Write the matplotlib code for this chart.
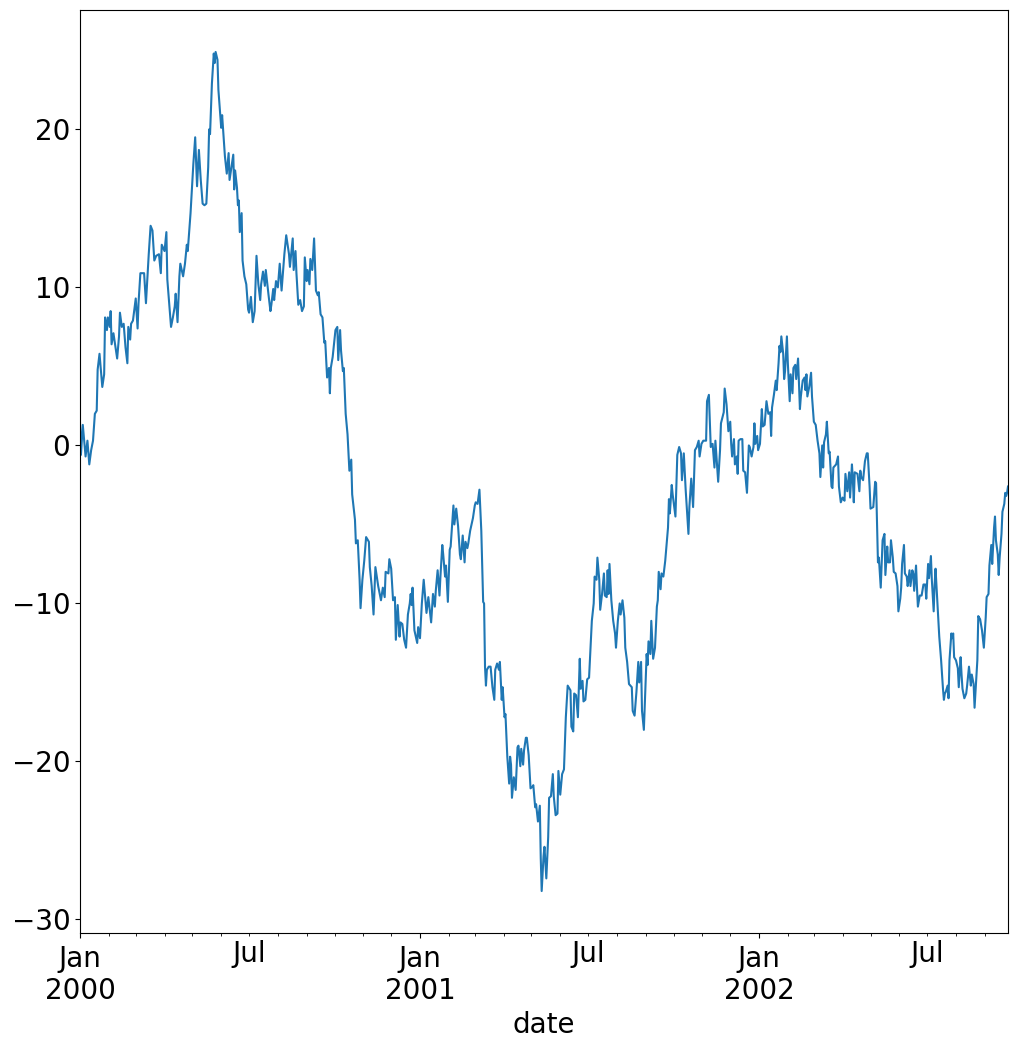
import matplotlib
matplotlib.use("Agg")
import matplotlib.pyplot as plt
import matplotlib.dates as mdates
from matplotlib.ticker import FuncFormatter
import pandas as pd

start_date = "2000-01-01"

days = [
    0, 1, 3, 6, 8, 10, 12, 14, 16, 18, 19, 21, 24, 26, 27, 29, 30, 32, 33, 34,
    36, 37, 40, 42, 43, 45, 47, 49, 51, 52, 54, 55, 57, 60, 62, 63, 65, 69, 71, 74,
    76, 78, 80, 82, 85, 87, 88, 91, 93, 94, 98, 100, 102, 103, 105, 107, 108, 111, 113, 115,
    116, 119, 122, 124, 126, 128, 130, 132, 134, 136, 138, 139, 140, 142, 144, 145, 146, 148, 149, 152,
    153, 156, 158, 160, 161, 163, 165, 166,
    167, 169, 170, 171, 172, 174, 175, 177, 179, 181, 182, 184, 186, 188, 190, 192, 194, 195, 197, 199,
    200, 202, 203, 205, 206, 208, 209, 211, 213, 215, 217, 220, 222, 225, 226, 229, 230, 232, 233, 235,
    237, 239, 241, 242, 244, 245, 247, 248, 250, 252, 254, 256, 257, 259, 261, 263, 264, 266, 268, 269,
    270, 272, 275, 277, 278, 280, 281, 283, 284, 286, 288, 290, 292, 293, 296, 297, 299, 301, 302, 304,
    306, 308, 311, 312, 314, 316, 318, 320, 321, 324, 326, 328, 329, 332, 333, 335, 337, 339,
    340, 342, 344, 345, 347, 349, 351, 353, 355, 356, 357, 358, 360, 363, 364, 366, 368, 370, 372, 373,
    375, 378, 380, 382, 383, 385, 387, 388, 390, 391, 393, 394, 396, 398, 399, 402, 403, 405, 407, 409,
    410, 412, 414, 415, 417, 418, 420, 423, 425, 426, 428, 430, 432, 434, 435, 436, 437, 438, 440, 442,
    444, 446, 447, 449, 451, 452, 454, 455, 457, 458, 460, 462, 463, 464, 465, 467, 469, 471, 472, 474,
    475, 477, 478, 480, 481, 483, 485, 487, 488, 490, 491, 493, 495, 496, 497, 499, 500, 502, 504, 505,
    507, 509, 510, 512, 514, 515, 517, 519, 521, 523,
    525, 528, 529, 531, 532, 534, 536, 538, 539, 541, 542, 544, 546, 548, 550, 551, 553, 554, 556, 557,
    559, 560, 562, 564, 565, 567, 568, 569, 570, 572, 574, 576, 577, 579, 581, 582, 584, 586, 587, 589,
    591, 594, 595, 597, 599, 601, 602, 604, 605, 607, 610, 611, 612, 614, 615, 617, 619, 621, 622, 623,
    625, 626, 628, 630, 633, 634, 635, 637, 638, 641, 643, 645, 647, 648, 650, 652, 655, 656, 658, 660,
    662, 664, 666, 667, 669, 671, 674, 675, 677, 679, 681, 683, 684, 687, 689, 690, 693, 694,
    696, 698, 700, 701, 702, 704, 705, 707, 708, 709, 711, 713, 714, 716, 718, 720, 721, 723, 725, 726,
    727, 729, 730, 732, 734, 735, 737, 739, 741, 743, 744, 745, 747, 749, 750, 752, 753, 754, 755, 757,
    758, 759, 761, 762, 764, 765, 767, 768, 770, 771, 773, 775, 776, 778, 780, 781, 782, 783, 785, 787,
    788, 790, 792, 794, 796, 797, 799, 800, 801, 803, 804, 806, 807, 809, 810, 811, 814, 816, 817, 819,
    821, 823, 824, 826, 828, 829, 831, 832, 833, 834, 837, 839, 840, 841, 843, 845, 847,
    848, 850, 851, 854, 856, 857, 859, 860, 862, 864, 866, 867, 869, 870, 872, 873, 875, 876, 878, 880,
    881, 883, 884, 885, 887, 888, 890, 891, 893, 894, 896, 897, 898, 900, 901, 902, 904, 906, 908, 910,
    911, 913, 914, 916, 917, 919, 920, 921, 923, 925, 927, 929, 930, 931, 932, 934, 935, 936, 938, 939,
    940, 941, 943, 945, 946, 948, 949, 950, 952, 954, 955, 957, 959, 960, 962, 963, 966, 967, 969, 971,
    973, 975, 976, 978, 979, 981, 982, 984, 985, 986, 988, 989, 990, 992, 993, 995, 996, 997, 998, 999,
]

values = [
    1.4, -0.6, 1.3, -0.7, 0.3, -1.2, -0.3, 0.3, 2.0, 2.2, 4.8, 5.8, 3.7, 4.5, 8.1, 7.3, 8.1, 7.5, 8.5, 6.4,
    7.1, 6.7, 5.5, 6.9, 8.4, 7.5, 7.7, 6.2, 5.2, 7.5, 6.7, 7.7, 7.9, 9.3, 7.4, 9.0, 10.9, 10.9, 9.0, 12.1,
    13.9, 13.6, 11.7, 12.0, 12.1, 10.9, 12.7, 12.3, 13.5, 10.5, 7.5, 8.1, 8.8, 9.6, 7.8, 10.7, 11.5, 10.7, 11.5, 12.7,
    12.3, 14.7, 17.8, 19.5, 16.4, 18.7, 16.8, 15.3, 15.2, 15.3, 17.6, 20.0, 19.7, 22.9, 24.8, 24.2, 24.9, 24.4, 22.5, 20.1,
    20.9, 18.3, 17.2, 18.5, 16.8, 17.6, 18.4, 16.2,
    17.4, 16.3, 15.2, 15.5, 13.5, 14.7, 11.7, 10.7, 10.2, 8.6, 8.4, 9.4, 7.8, 8.5, 12.0, 10.2, 9.2, 10.2, 11.0, 10.1,
    11.1, 10.0, 9.5, 8.5, 8.9, 9.9, 9.2, 10.4, 10.0, 11.5, 9.8, 12.1, 13.3, 12.1, 11.3, 13.1, 11.1, 12.3, 10.9, 8.9,
    9.2, 8.5, 8.8, 11.9, 10.4, 11.1, 10.2, 11.8, 11.1, 13.1, 9.8, 9.5, 9.7, 8.3, 8.1, 6.5, 6.6, 4.3, 4.9, 3.3,
    4.9, 5.6, 7.3, 7.5, 5.4, 7.3, 6.0, 4.7, 4.9, 2.0, 0.7, -1.6, -0.9, -3.1, -4.7, -6.2, -6.0, -8.5, -10.3, -8.5,
    -7.3, -5.8, -6.1, -7.7, -8.9, -10.7, -7.7, -8.5, -8.9, -9.8, -9.0, -9.6, -8.0, -8.1, -7.2, -7.8, -9.8, -9.6,
    -12.3, -10.1, -12.1, -11.2, -11.3, -12.3, -12.8, -10.7, -10.0, -9.4, -10.1, -9.0, -11.7, -12.5, -11.5, -12.2, -10.0, -8.5, -9.9, -10.6,
    -9.6, -11.2, -9.4, -10.2, -9.2, -7.9, -9.5, -8.3, -6.3, -6.9, -8.3, -7.6, -9.9, -6.6, -6.4, -3.8, -5.0, -4.0, -5.1, -6.9,
    -7.2, -5.7, -7.4, -6.1, -6.5, -6.2, -5.4, -4.6, -3.8, -3.6, -3.7, -2.8, -5.4, -9.9, -10.0, -14.0, -15.2, -14.2, -14.0, -14.0,
    -15.3, -16.1, -14.2, -13.8, -14.2, -13.7, -16.1, -15.3, -17.2, -17.0, -19.7, -21.4, -19.7, -20.2, -22.3, -21.0, -21.8, -19.1, -19.0, -20.3,
    -19.2, -20.2, -19.3, -18.5, -18.5, -19.6, -21.7, -21.6, -21.5, -22.9, -22.7, -23.8, -22.8, -26.1, -28.2, -26.0, -25.4, -27.4, -24.8, -22.3,
    -22.2, -20.8, -22.2, -23.4, -23.3, -20.6, -22.1, -20.8, -20.5, -17.2,
    -15.2, -15.5, -17.8, -18.1, -15.7, -15.8, -17.2, -13.5, -15.4, -14.9, -16.2, -16.1, -14.8, -14.7, -12.3, -11.1, -10.0, -8.3, -8.5, -7.1,
    -8.5, -10.4, -9.4, -8.1, -9.5, -9.6, -7.9, -9.4, -7.5, -9.8, -11.1, -11.9, -12.8, -11.1, -10.0, -10.7, -9.8, -10.9, -12.8, -13.7,
    -15.1, -15.3, -16.8, -17.1, -15.6, -13.7, -15.0, -13.7, -16.8, -18.0, -13.2, -13.9, -12.4, -13.2, -11.1, -13.5, -12.8, -10.2, -9.8, -8.0,
    -9.1, -8.1, -8.3, -7.3, -5.2, -3.4, -4.3, -2.5, -3.1, -4.5, -0.6, -0.1, -0.5, -2.2, -0.5, -2.8, -5.6, -3.9, -2.1, -3.9,
    -0.3, -0.1, 0.3, -0.7, 0.1, 0.3, 0.3, 2.8, 3.2, -0.1, 0.1, -1.4, 0.3, -2.3, -0.3, 1.4, 2.1, 3.6,
    2.6, 0.9, 1.5, 0.1, -0.7, 0.4, -1.2, -0.7, -1.8, 0.3, 0.4, 0.4, -1.6, -1.7, -3.0, 0.0, -0.1, -0.7, -0.1, 1.4,
    0.1, 0.6, -0.3, 0.1, 2.3, 1.2, 1.3, 2.8, 2.0, 2.1, 0.6, 2.4, 3.2, 4.1, 3.5, 5.2, 6.3, 5.9, 6.9, 5.8,
    4.2, 4.7, 6.9, 5.2, 2.8, 4.5, 3.3, 4.9, 5.1, 4.2, 5.5, 2.3, 3.1, 4.1, 4.3, 3.5, 4.5, 3.1, 3.7, 4.6,
    3.1, 1.5, 1.3, 0.3, -0.5, -2.0, 0.0, -1.4, 0.2, 0.7, 1.5, -0.5, -0.4, -2.6, -2.7, -1.4, -1.2, -0.7, -2.6, -3.6,
    -3.3, -3.5, -1.8, -2.9, -1.7, -3.3, -1.2, -2.2, -3.6, -1.7, -1.8, -2.9, -1.6, -2.0, -2.2, -1.0, -0.5,
    -0.5, -2.6, -4.0, -3.9, -2.3, -2.4, -7.4, -7.1, -9.0, -6.0, -5.6, -8.2, -6.4, -7.4, -7.4, -6.0, -7.1, -8.0, -8.1, -8.9,
    -10.5, -9.7, -9.0, -7.5, -6.3, -8.1, -8.3, -8.9, -7.9, -8.9, -7.9, -8.1, -9.2, -7.6, -9.0, -10.2, -9.5, -9.5, -8.8, -8.8,
    -9.7, -7.5, -8.4, -7.0, -8.5, -10.5, -8.8, -7.8, -10.0, -12.1, -13.6, -15.4, -16.1, -15.7, -15.6, -15.2, -16.0, -13.6, -11.9, -12.2,
    -11.9, -13.4, -13.6, -14.1, -15.3, -13.4, -14.5, -15.4, -16.0, -15.7, -15.2, -14.0, -15.2, -14.5, -15.1, -16.6, -13.6, -10.8, -11.0, -11.7,
    -12.8, -10.9, -9.6, -9.4, -7.6, -6.3, -7.5, -5.2, -4.5, -6.0, -6.9, -8.2, -7.1, -5.6, -4.2, -3.7, -3.0, -3.2, -3.0, -2.6,
]

xlabel = "date"

dates = pd.Timestamp(start_date) + pd.to_timedelta(days, unit="D")

fig = plt.figure(figsize=(10.18, 10.53), dpi=100)
ax = fig.add_axes([80 / 1018, 1 - 933 / 1053, 928 / 1018, 923 / 1053])
ax.plot(dates, values, color="#1f77b4", linewidth=1.5)
ax.set_xlim(dates[0], dates[-1])

ax.xaxis.set_major_locator(mdates.YearLocator())
ax.xaxis.set_major_formatter(mdates.DateFormatter("%b\n%Y"))
ax.xaxis.set_minor_locator(mdates.MonthLocator())
ax.xaxis.set_minor_formatter(
    FuncFormatter(lambda x, pos: "Jul" if mdates.num2date(x).month == 7 else "")
)

ax.tick_params(axis="both", which="both", labelsize=20)
ax.tick_params(axis="x", which="major", pad=5.0)
ax.set_xlabel(xlabel, fontsize=20)

fig.savefig("out.png", dpi=100)
